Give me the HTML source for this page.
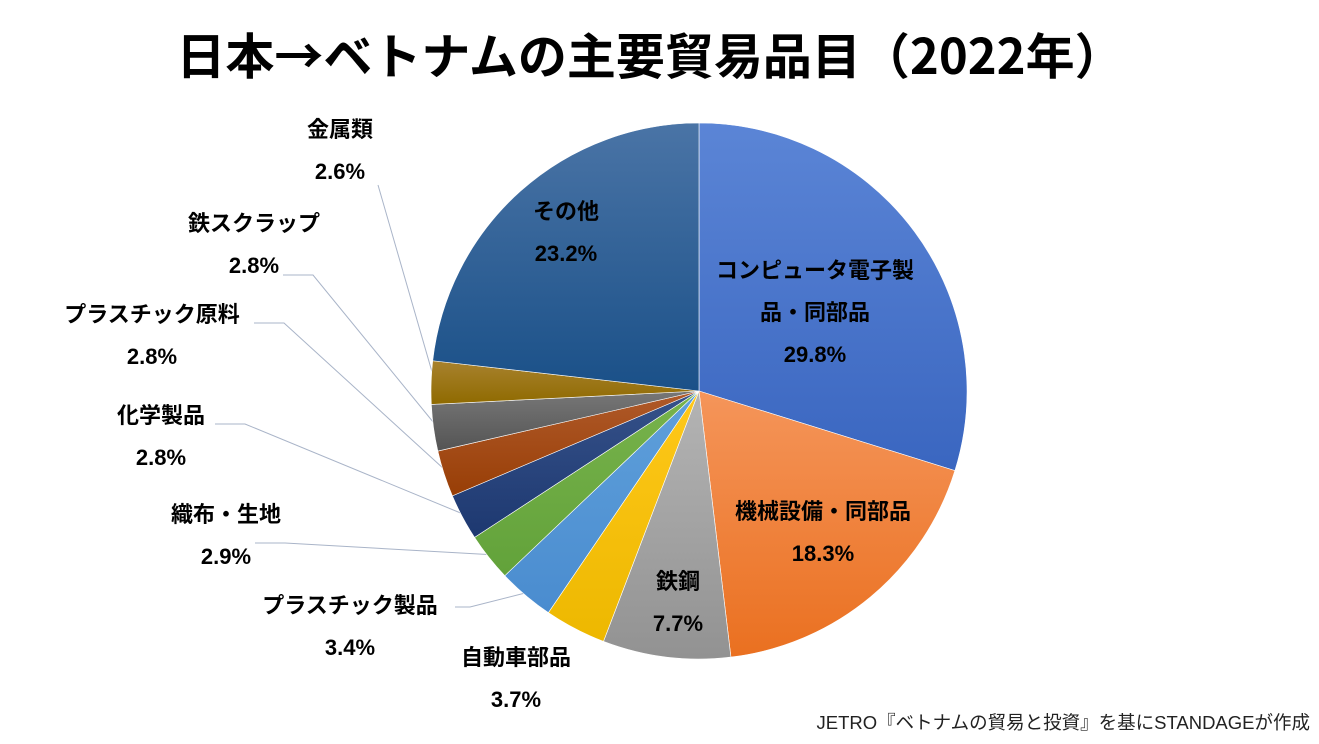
<!DOCTYPE html>
<html><head><meta charset="utf-8">
<style>
body{margin:0;width:1319px;height:739px;background:#fff;overflow:hidden;font-family:"Liberation Sans","Noto Sans CJK JP",sans-serif;}
svg text{font-family:"Liberation Sans","Noto Sans CJK JP",sans-serif;}
</style></head>
<body>
<svg id="chart" width="1319" height="739">
<text x="650" y="74" text-anchor="middle" font-size="49" font-weight="bold" fill="#000" style="font-family:'Noto Sans CJK JP',sans-serif">日本→ベトナムの主要貿易品目（2022年）</text>
<g id="leaders"></g>
<g id="slices"></g>
<g id="labels"></g>
<text x="1310" y="729" text-anchor="end" font-size="18.5" fill="#222">JETRO『ベトナムの貿易と投資』を基にSTANDAGEが作成</text>
</svg>
<script>
const categories=["コンピュータ電子製品・同部品","機械設備・同部品","鉄鋼","自動車部品","プラスチック製品","織布・生地","化学製品","プラスチック原料","鉄スクラップ","金属類","その他"];
const values=[29.8,18.3,7.7,3.7,3.4,2.9,2.8,2.8,2.8,2.6,23.2];
const valueLabels=["29.8%","18.3%","7.7%","3.7%","3.4%","2.9%","2.8%","2.8%","2.8%","2.6%","23.2%"];
const colors=[["#5b85d6","#3a66c0"],["#f5955a","#ea7020"],["#b4b4b4","#929292"],["#ffc81a","#edb800"],["#5fa0db","#4a8ccf"],["#78b34c","#62a23a"],["#36528a","#1d3870"],["#b05a2a","#983e06"],["#777","#545454"],["#a8822e","#8f6a00"],["#4a74a6","#1a5088"]];
const cx=699,cy=391,R=268;
const NS="http://www.w3.org/2000/svg";
const svg=document.getElementById('chart');
const defs=document.createElementNS(NS,'defs');svg.insertBefore(defs,svg.firstChild);
const total=values.reduce((a,b)=>a+b,0);
function pt(a,r){return [cx+r*Math.sin(a),cy-r*Math.cos(a)];}
let a0=0;const mids=[];
const sg=document.getElementById('slices');
values.forEach((v,i)=>{
 const a1=a0+v/total*2*Math.PI;
 const g=document.createElementNS(NS,'linearGradient');
 g.setAttribute('id','g'+i);g.setAttribute('x1','0');g.setAttribute('y1','0');g.setAttribute('x2','0');g.setAttribute('y2','1');
 g.innerHTML=`<stop offset="0" stop-color="${colors[i][0]}"/><stop offset="1" stop-color="${colors[i][1]}"/>`;
 defs.appendChild(g);
 const p0=pt(a0,R),p1=pt(a1,R);
 const large=(a1-a0)>Math.PI?1:0;
 const p=document.createElementNS(NS,'path');
 p.setAttribute('d',`M${cx},${cy}L${p0[0]},${p0[1]}A${R},${R} 0 ${large} 1 ${p1[0]},${p1[1]}Z`);
 p.setAttribute('fill',`url(#g${i})`);p.setAttribute('stroke','#fff');p.setAttribute('stroke-width','0.6');
 
 
 sg.appendChild(p);
 mids.push((a0+a1)/2);a0=a1;
});
const lab=[[815,278,true],[823,519,false],[678,589,false],[516,665,false],[350,613,false],[226,522,false],[161,423,false],[152,322,false],[254,231,false],[340,137,false],[566,219,false]];
const lg=document.getElementById('labels');
const leadG=document.getElementById('leaders');
const anchors=[null,null,null,null,[455,607],[255,543],[215,424],[254,323],[283,275],[378,185],null];
categories.forEach((c,i)=>{
 const [x,y,two]=lab[i];
 const t=document.createElementNS(NS,'text');
 t.setAttribute('x',x);t.setAttribute('y',y);t.setAttribute('text-anchor','middle');
 t.setAttribute('font-size','22');t.setAttribute('font-weight','bold');t.setAttribute('fill','#000');
 
 
 let lines;
 if(two){lines=["コンピュータ電子製","品・同部品",valueLabels[i]];}
 else lines=[c,valueLabels[i]];
 lines.forEach((s,k)=>{const ts=document.createElementNS(NS,'tspan');ts.setAttribute('x',x);ts.setAttribute('dy',k?42:0);ts.textContent=s;t.appendChild(ts);});
 lg.appendChild(t);
 if(anchors[i]){
  const e=pt(mids[i],R-4);
  const l=document.createElementNS(NS,'polyline');
  const [ax,ay]=anchors[i];
  l.setAttribute('points',`${ax},${ay} ${ax+(i==4?15:i==9?0:30)},${ay} ${e[0]},${e[1]}`);
  l.setAttribute('fill','none');l.setAttribute('stroke','#a9b4c8');l.setAttribute('stroke-width','1');
  
  
  leadG.appendChild(l);
 }
});
</script>
</body></html>
